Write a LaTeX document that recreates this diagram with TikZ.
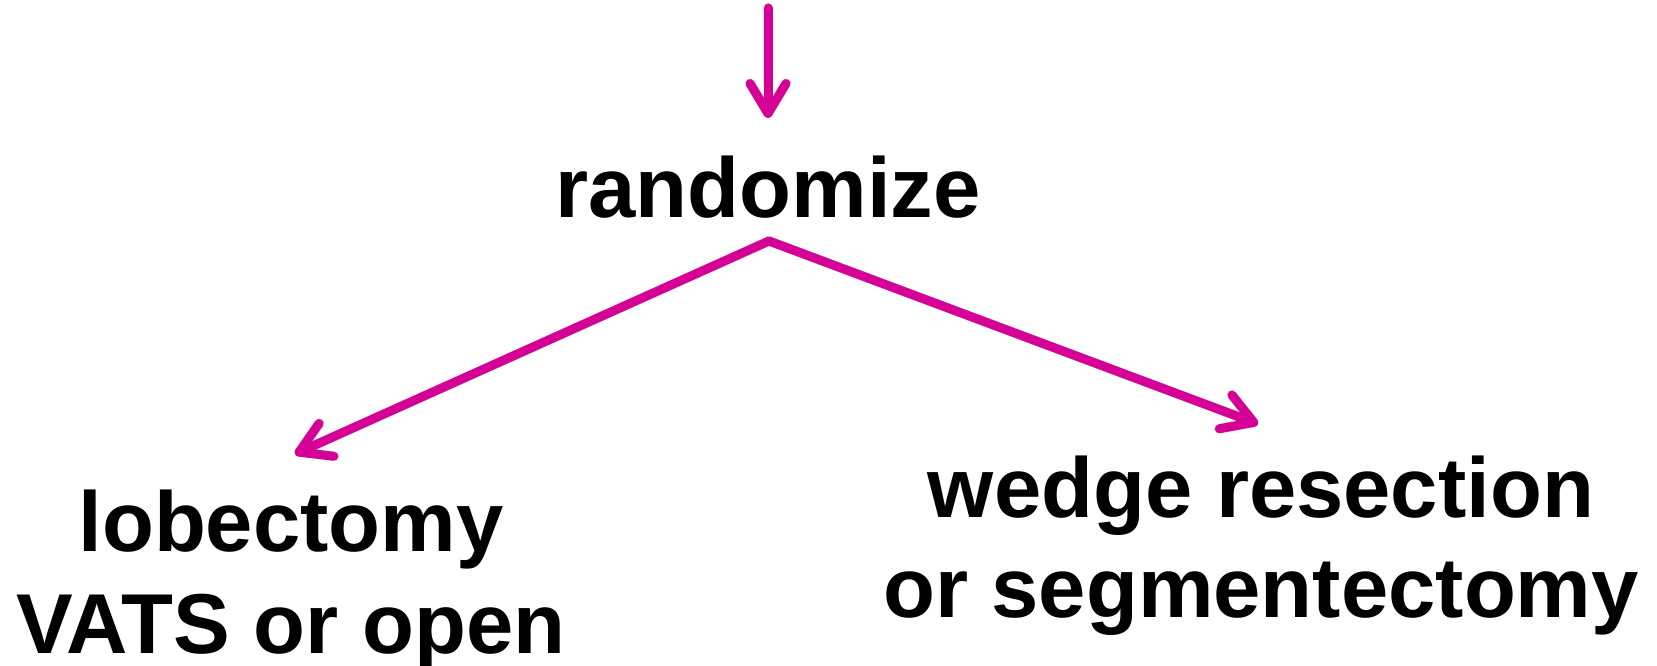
\documentclass[tikz,border=0pt]{standalone}
\usepackage{fontspec}
\setmainfont{Liberation Sans}
\usetikzlibrary{arrows.meta}
\definecolor{flowmagenta}{RGB}{213,0,150}
\tikzset{
  label text/.style={font=\bfseries\fontsize{85}{102}\selectfont, align=center, anchor=base, inner sep=0pt},
  tip/.style={-{Straight Barb[length=30pt,width=36pt,line cap=round,line join=round]}},
  flow arrow/.style={draw=flowmagenta, line width=9pt, line cap=round, line join=round, tip},
  shade line/.style={draw=black, opacity=0.10, line width=10pt, line cap=round, line join=round, tip}
}
\begin{document}
\begin{tikzpicture}[x=1pt, y=-1pt]
  \useasboundingbox (0,0) rectangle (1657,666);
  % treatment labels (two-line labels are anchored on their last baseline)
  \node[label text] (rand) at (768,217) {randomize};
  \node[label text] (lobe) at (291,653) {lobectomy\\VATS or open};
  \node[label text, font=\bfseries\fontsize{85}{100}\selectfont] (wedge) at (1261,617) {wedge resection\\or segmentectomy};
  % connector points
  \coordinate (entry) at (768,8);
  \coordinate (entryend) at (768,118);
  \coordinate (apex) at (769,241);
  \coordinate (lefttip) at (295,454);
  \coordinate (righttip) at (1258,424);
  % soft shadows under the arrows
  \begin{scope}[shift={(2,4)}]
    \draw[shade line] (entry) -- (entryend);
    \draw[shade line] (apex) -- (lefttip);
    \draw[shade line] (apex) -- (righttip);
  \end{scope}
  % arrows
  \draw[flow arrow] (entry) -- (entryend);
  \draw[flow arrow] (apex) -- (lefttip);
  \draw[flow arrow] (apex) -- (righttip);
\end{tikzpicture}
\end{document}
